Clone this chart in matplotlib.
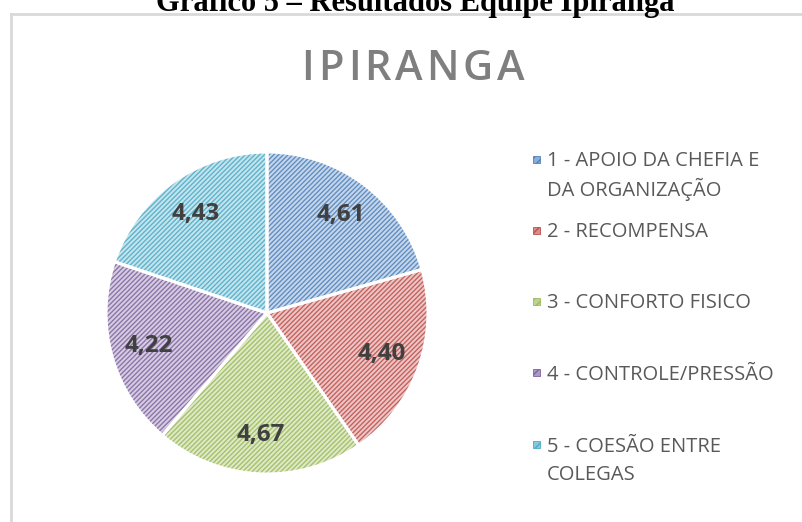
import matplotlib
matplotlib.use("Agg")
import matplotlib.pyplot as plt
from matplotlib.patches import Rectangle
from matplotlib.colors import to_rgb

# ---- data ----
categories = [
    "1 - APOIO DA CHEFIA E\nDA ORGANIZAÇÃO",
    "2 - RECOMPENSA",
    "3 - CONFORTO FISICO",
    "4 - CONTROLE/PRESSÃO",
    "5 - COESÃO ENTRE\nCOLEGAS",
]
values = [4.61, 4.40, 4.67, 4.22, 4.43]
colors = ["#4f81bd", "#c0504d", "#9bbb59", "#8064a2", "#4bacc6"]
chart_title = "IPIRANGA"
doc_title = "Gráfico 5 – Resultados Equipe Ipiranga"

W, H = 802, 522
DPI = 100
plt.rcParams["hatch.linewidth"] = 1.0


def tint(c, f=0.62):
    r, g, b = to_rgb(c)
    return (r + (1 - r) * f, g + (1 - g) * f, b + (1 - b) * f)


fig = plt.figure(figsize=(W / DPI, H / DPI), dpi=DPI)
fig.patch.set_facecolor("white")


def fx(px):
    return px / W


def fy(py):
    return 1 - py / H


# frame border (left + top)
frame = fig.add_axes([fx(11), fy(540), 1.2, fy(14) - fy(540)])
frame.set_xticks([]); frame.set_yticks([])
for s in frame.spines.values():
    s.set_color("#d9d9d9"); s.set_linewidth(2)
frame.patch.set_alpha(0)

# document title (cut at top, as in the reference)
fig.text(fx(415), fy(11), doc_title, ha="center", va="baseline",
         fontsize=22, fontweight="bold", family="Liberation Serif", color="black")

# chart title with letter spacing
renderer = fig.canvas.get_renderer()
tkw = dict(fontsize=30, fontweight="semibold", family="Open Sans", color="#7f7f7f")
tracking = 4.0
letters = []
widths = []
for ch in chart_title:
    t = fig.text(0, fy(80), ch, ha="left", va="baseline", **tkw)
    widths.append(t.get_window_extent(renderer).width)
    letters.append(t)
total_w = sum(widths) + tracking * (len(widths) - 1)
x = 413 - total_w / 2
for t, wdt in zip(letters, widths):
    t.set_x(fx(x))
    x += wdt + tracking

# pie
cx, cy, R = 267, 313, 161
ax = fig.add_axes([fx(cx - R), fy(cy + R), 2 * R / W, 2 * R / H])
total = sum(values)
wedges, texts, autotexts = ax.pie(
    values, startangle=90, counterclock=False, radius=1,
    colors=[tint(c, 0.68) for c in colors],
    wedgeprops=dict(linewidth=0),
    autopct=lambda p: f"{p * total / 100:.2f}".replace(".", ","),
    pctdistance=0.76,
    textprops=dict(fontsize=17.5, fontweight="bold", family="Open Sans", color="#404040"),
)
for w, c in zip(wedges, colors):
    w.set_hatch("///////")
    w.set_edgecolor(tint(c, 0.1))
# white separators
ax.pie(values, startangle=90, counterclock=False, radius=1,
       colors=["none"] * len(values),
       wedgeprops=dict(linewidth=2.2, edgecolor="white", facecolor="none"))
for t in autotexts:
    t.set_zorder(5)
ax.set_xlim(-1.0, 1.0); ax.set_ylim(-1.0, 1.0)
ax.set_aspect("equal")
ax.axis("off")

# legend (manual)
first_y = [159, 230, 301, 372, 444]
line_h = 28
for cat, c, y0 in zip(categories, colors, first_y):
    rect = Rectangle((fx(533), fy(y0 + 4)), 7 / W, 7 / H, transform=fig.transFigure,
                     facecolor=tint(c, 0.35), edgecolor=c, linewidth=0.6, hatch="////")
    fig.patches.append(rect)
    for i, line in enumerate(cat.split("\n")):
        fig.text(fx(547), fy(y0 + i * line_h), line, ha="left", va="center_baseline",
                 fontsize=14.5, family="Open Sans", color="#595959")

fig.savefig("out.png", dpi=DPI, facecolor="white")
